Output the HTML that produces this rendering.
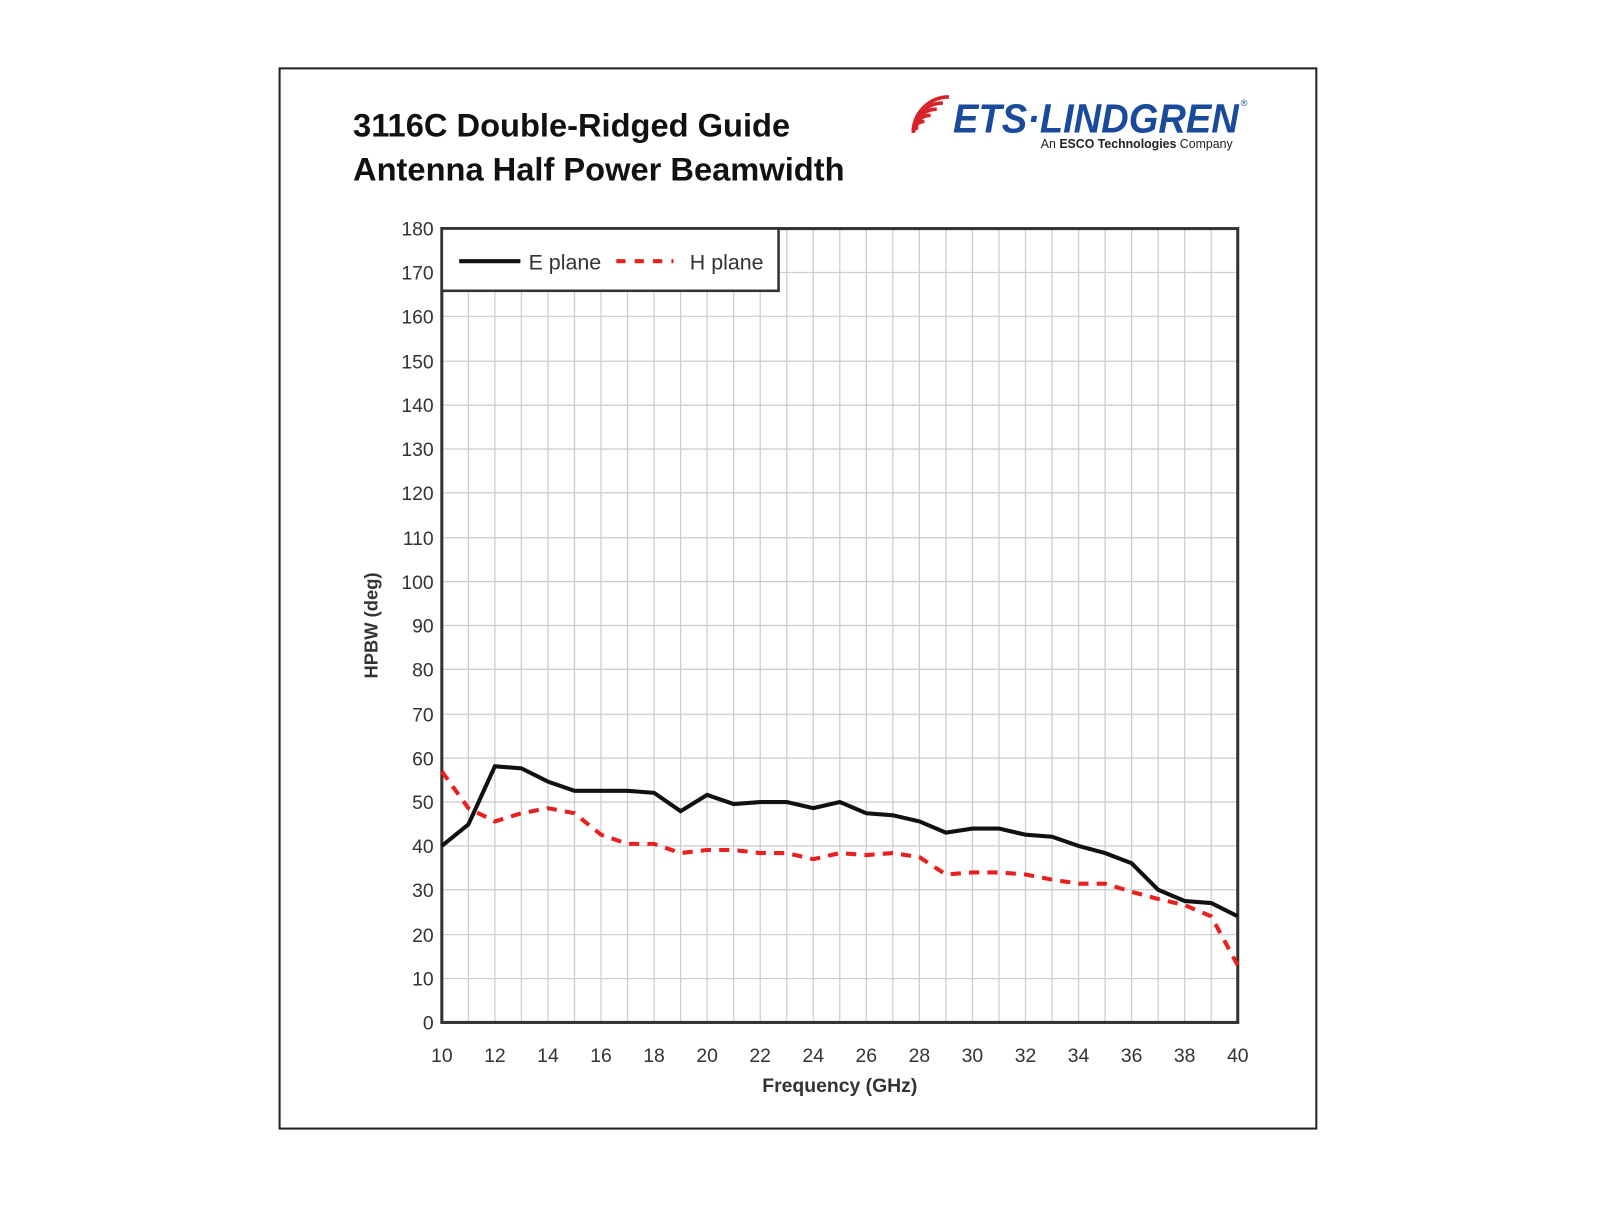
<!DOCTYPE html><html><head><style>body{margin:0;background:#fff}</style></head><body>
<svg width="1600" height="1200" xmlns="http://www.w3.org/2000/svg" font-family="Liberation Sans, sans-serif">
<g transform="scale(1.0204)">
<rect x="274" y="67" width="1016" height="1039" fill="#fff" stroke="#222" stroke-width="2"/>
<text x="346" y="134" font-size="32" font-weight="bold" fill="#111">3116C Double-Ridged Guide</text>
<text x="346" y="177" font-size="32" font-weight="bold" fill="#111">Antenna Half Power Beamwidth</text>
<g fill="none" stroke="#d8232a" stroke-width="3.5">
<path d="M895,130 a5,5 0 0 1 5,-5"/><path d="M895,130 a11,11 0 0 1 11,-11"/><path d="M895,130 a17,17 0 0 1 17,-17"/><path d="M895,130 a23,23 0 0 1 23,-23"/><path d="M895,130 a29,29 0 0 1 29,-29"/><path d="M895,130 a35,35 0 0 1 35,-35"/>
</g>
<text x="934" y="130" font-size="40" font-weight="bold" font-style="italic" fill="#1a4a9a" textLength="280" lengthAdjust="spacingAndGlyphs">ETS·LINDGREN</text>
<text x="1216" y="104" font-size="9" fill="#1a4a9a">®</text>
<text x="1020" y="145" font-size="13" fill="#222" textLength="188" lengthAdjust="spacingAndGlyphs">An <tspan font-weight="bold">ESCO Technologies</tspan> Company</text>
<g stroke="#ccc" stroke-width="1.2">
<path d="M459,224V1002M485,224V1002M511,224V1002M537,224V1002M563,224V1002M589,224V1002M615,224V1002M641,224V1002M667,224V1002M693,224V1002M719,224V1002M745,224V1002M771,224V1002M797,224V1002M823,224V1002M849,224V1002M875,224V1002M901,224V1002M927,224V1002M953,224V1002M979,224V1002M1005,224V1002M1031,224V1002M1057,224V1002M1083,224V1002M1109,224V1002M1135,224V1002M1161,224V1002M1187,224V1002"/>
<path d="M433,959H1213M433,916H1213M433,872H1213M433,829H1213M433,786H1213M433,743H1213M433,700H1213M433,656H1213M433,613H1213M433,570H1213M433,527H1213M433,483H1213M433,440H1213M433,397H1213M433,354H1213M433,310H1213M433,267H1213"/>
</g>
<rect x="433" y="224" width="780" height="778" fill="none" stroke="#333" stroke-width="3"/>
<rect x="433" y="224" width="330" height="61" fill="#fff" stroke="#333" stroke-width="2.5"/>
<line x1="450" y1="256" x2="510" y2="256" stroke="#111" stroke-width="4"/>
<text x="518" y="264" font-size="21" fill="#333">E plane</text>
<line x1="604" y1="256" x2="660" y2="256" stroke="#e8201e" stroke-width="4" stroke-dasharray="9,9"/>
<text x="676" y="264" font-size="21" fill="#333">H plane</text>
<polyline fill="none" stroke="#111" stroke-width="4" points="433,829 459,808 485,751 511,753 537,766 563,775 589,775 615,775 641,777 667,795 693,779 719,788 745,786 771,786 797,792 823,786 849,797 875,799 901,805 927,816 953,812 979,812 1005,818 1031,820 1057,829 1083,836 1109,846 1135,872 1161,883 1187,885 1213,898"/>
<polyline fill="none" stroke="#e8201e" stroke-width="4" stroke-dasharray="10,8" points="433,756 459,792 485,805 511,797 537,792 563,797 589,818 615,827 641,827 667,836 693,833 719,833 745,836 771,836 797,842 823,836 849,838 875,836 901,840 927,857 953,855 979,855 1005,857 1031,862 1057,866 1083,866 1109,874 1135,881 1161,887 1187,898 1213,946"/>
<g font-size="19" fill="#333" text-anchor="end">
<text x="425" y="1009">0</text><text x="425" y="966">10</text><text x="425" y="923">20</text><text x="425" y="879">30</text><text x="425" y="836">40</text><text x="425" y="793">50</text><text x="425" y="750">60</text><text x="425" y="707">70</text><text x="425" y="663">80</text><text x="425" y="620">90</text><text x="425" y="577">100</text><text x="425" y="534">110</text><text x="425" y="490">120</text><text x="425" y="447">130</text><text x="425" y="404">140</text><text x="425" y="361">150</text><text x="425" y="317">160</text><text x="425" y="274">170</text><text x="425" y="231">180</text>
</g>
<g font-size="19" fill="#333" text-anchor="middle">
<text x="433" y="1041">10</text><text x="485" y="1041">12</text><text x="537" y="1041">14</text><text x="589" y="1041">16</text><text x="641" y="1041">18</text><text x="693" y="1041">20</text><text x="745" y="1041">22</text><text x="797" y="1041">24</text><text x="849" y="1041">26</text><text x="901" y="1041">28</text><text x="953" y="1041">30</text><text x="1005" y="1041">32</text><text x="1057" y="1041">34</text><text x="1109" y="1041">36</text><text x="1161" y="1041">38</text><text x="1213" y="1041">40</text>
</g>
<text x="823" y="1070" font-size="19" font-weight="bold" fill="#333" text-anchor="middle">Frequency (GHz)</text>
<text transform="translate(370,613) rotate(-90)" font-size="18" font-weight="bold" fill="#333" text-anchor="middle">HPBW (deg)</text>
</g>
</svg>
</body></html>
